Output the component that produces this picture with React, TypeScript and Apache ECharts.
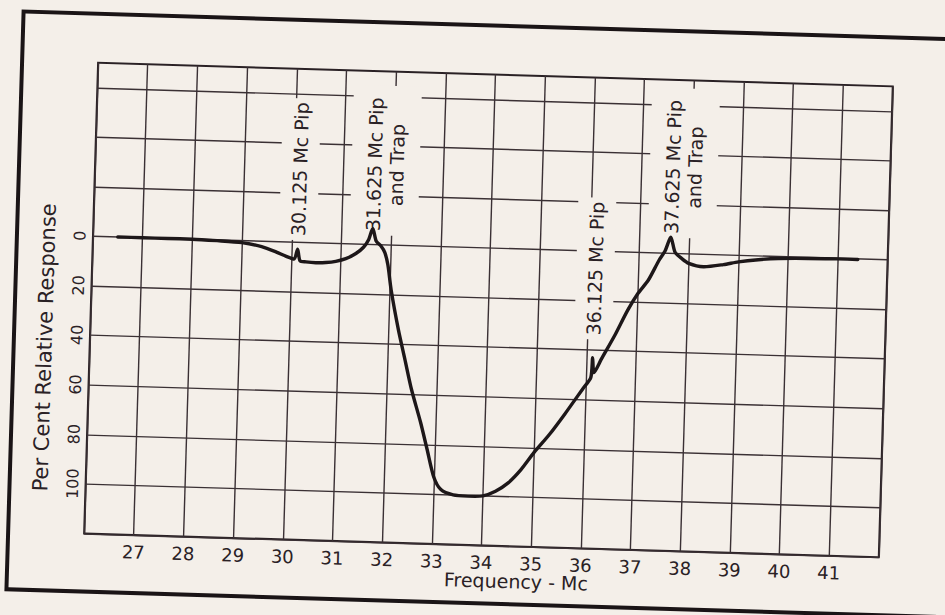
import React, { useEffect, useRef } from "react";
import * as echarts from "echarts";

// ---- data ----
const frequencyMc = [
  26.5, 27, 27.5, 28, 28.5, 29, 29.4, 29.7, 29.9, 30.06, 30.125, 30.18, 30.3, 30.5,
  30.7, 30.9, 31.1, 31.3, 31.45, 31.55, 31.625, 31.7, 31.8, 31.88, 31.95, 32.03, 32.2,
  32.35, 32.5, 32.7, 32.85, 33.0, 33.15, 33.4, 33.7, 34.0, 34.25, 34.5, 34.75, 35.0,
  35.3, 35.6, 35.95, 36.1, 36.125, 36.16, 36.3, 36.55, 36.8, 37.0, 37.2, 37.4, 37.52,
  37.625, 37.72, 37.85, 38.0, 38.3, 38.7, 39.0, 39.4, 39.8, 40.4, 41.0, 41.4,
];
const responsePct = [
  0, 0, 0, 0, 0.3, 0.8, 2.2, 4.2, 5.8, 6.8, 2.8, 7.4, 7.8, 8.0,
  7.8, 7.2, 6.0, 3.8, 1.2, -2.0, -6.5, -1.5, 0.5, 3, 8, 18, 34,
  46, 58, 71, 82, 93, 98, 100, 100.3, 100, 98, 94.5, 89, 82,
  74.5, 66, 55.5, 51, 43, 49, 43.5, 34, 23.5, 16.5, 11, 3, -1,
  -6.5, -0.5, 1.8, 3.8, 5, 3.9, 2.6, 1.5, 0.8, 0.4, 0.2, 0.2,
];
const xTickLabels = [27, 28, 29, 30, 31, 32, 33, 34, 35, 36, 37, 38, 39, 40, 41];
const yTickLabels = [0, 20, 40, 60, 80, 100];
const annotationTexts = [
  "30.125 Mc Pip",
  "31.625 Mc Pip\nand Trap",
  "36.125 Mc Pip",
  "37.625 Mc Pip\nand Trap",
];
const annotationFreq = [30.125, 31.625, 36.125, 37.625];
const annotationLevel = [-29.5, -34, 7, -36.5];
const xAxisTitle = "Frequency - Mc";
const yAxisTitle = "Per Cent Relative Response";

// ---- style ----
const PAPER = "#f4efe9";
const INK = "#2a2125";
const GRID = "#3a3034";
const FONT = "DejaVu Sans";

export default function App() {
  const ref = useRef<HTMLDivElement>(null);

  useEffect(() => {
    if (!ref.current) return;
    const chart = echarts.init(ref.current, null, { renderer: "svg" });
    chart.setOption({
      animation: false,
      backgroundColor: "transparent",
      grid: {
        left: 91,
        right: 59,
        top: 74,
        bottom: 70,
        show: true,
        borderColor: INK,
        borderWidth: 2,
        backgroundColor: "transparent",
      },
      xAxis: {
        type: "value",
        min: 26,
        max: 42,
        interval: 1,
        axisLine: { show: false },
        axisTick: { show: false },
        splitLine: { show: true, lineStyle: { color: GRID, width: 1.4 } },
        axisLabel: {
          margin: 8,
          fontFamily: FONT,
          fontSize: 18,
          color: INK,
          formatter: (v: number) => (xTickLabels.includes(v) ? String(v) : ""),
        },
      },
      yAxis: {
        type: "value",
        inverse: true,
        min: -70,
        max: 120,
        interval: 10,
        axisLine: { show: false },
        axisTick: { show: false },
        splitLine: {
          show: true,
          lineStyle: { color: ["rgba(0,0,0,0)", GRID], width: 1.4 },
        },
        axisLabel: {
          rotate: 90,
          margin: 5,
          fontFamily: FONT,
          fontSize: 16,
          color: INK,
          formatter: (v: number) => (yTickLabels.includes(v) ? String(v) : ""),
        },
      },
      series: [
        {
          type: "line",
          z: 5,
          data: frequencyMc.map((f, i) => [f, responsePct[i]]),
          showSymbol: false,
          smooth: 0.25,
          lineStyle: { color: "#1d1719", width: 3.4, cap: "round", join: "round" },
        },
      ],
    });

    const lh = 22;
    const annotations = annotationTexts.map((t, i) => {
      const [px, py] = chart.convertToPixel({ gridIndex: 0 }, [
        annotationFreq[i],
        annotationLevel[i],
      ]) as number[];
      const lines = t.split("\n").length;
      return {
        type: "text",
        x: px,
        y: py,
        rotation: Math.PI / 2,
        z: 3,
        style: {
          text: t,
          x: 0,
          y: ((lines - 1) * lh) / 2,
          align: "center",
          verticalAlign: "middle",
          textAlign: "center",
          textVerticalAlign: "middle",
          fontFamily: FONT,
          fontSize: 19,
          lineHeight: lh,
          fill: INK,
          backgroundColor: PAPER,
          padding: lines > 1 ? [12, 12, 12, 4] : [8, 4, 8, 4],
        },
      };
    });

    chart.setOption({
      graphic: {
        elements: [
          {
            type: "rect",
            z: 1,
            shape: { x: 15, y: 25, width: 1000, height: 578 },
            style: { fill: "none", stroke: "#1a1416", lineWidth: 4 },
          },
          {
            type: "text",
            x: 46,
            y: 360,
            rotation: Math.PI / 2,
            z: 3,
            style: {
              text: yAxisTitle,
              align: "center",
              verticalAlign: "middle",
              textAlign: "center",
              textVerticalAlign: "middle",
              fontFamily: FONT,
              fontSize: 21,
              fill: INK,
            },
          },
          {
            type: "text",
            x: 524,
            y: 580,
            z: 3,
            style: {
              text: xAxisTitle,
              align: "center",
              verticalAlign: "middle",
              textAlign: "center",
              textVerticalAlign: "middle",
              fontFamily: FONT,
              fontSize: 19,
              fill: INK,
            },
          },
          ...annotations,
        ],
      },
    });

    return () => chart.dispose();
  }, []);

  return (
    <div
      style={{
        position: "fixed",
        left: 0,
        top: 0,
        width: 945,
        height: 615,
        background: PAPER,
        overflow: "hidden",
      }}
    >
      <div
        ref={ref}
        style={{
          position: "absolute",
          left: 0,
          top: 0,
          width: 945,
          height: 615,
          transform: "rotate(1.7deg)",
          transformOrigin: "50% 50%",
        }}
      />
    </div>
  );
}
